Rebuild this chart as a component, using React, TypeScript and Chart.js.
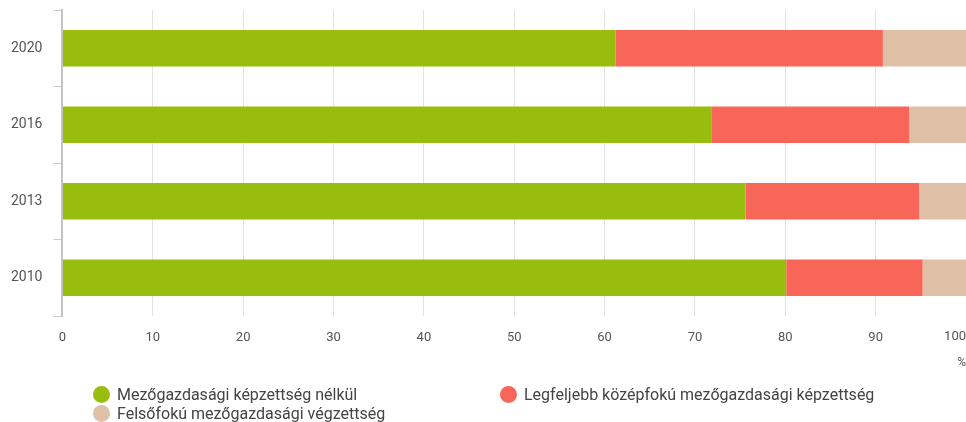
import React, { useEffect, useRef } from 'react';
import { Chart, registerables } from 'chart.js';

Chart.register(...registerables);

const years = ['2020', '2016', '2013', '2010'];
const noTraining = [61.2, 71.8, 75.6, 80.1];
const secondaryTraining = [29.6, 21.9, 19.2, 15.1];
const higherTraining = [9.2, 6.3, 5.2, 4.8];
const seriesNames = [
  'Mezőgazdasági képzettség nélkül',
  'Legfeljebb középfokú mezőgazdasági képzettség',
  'Felsőfokú mezőgazdasági végzettség',
];
const seriesColors = ['#98bd0f', '#f8665a', '#dfc0a7'];
const unitLabel = '%';
const axisMax = 100;

const FONT = 'Roboto, "Noto Sans", sans-serif';
const TEXT = '#555555';

export default function App() {
  const ref = useRef<HTMLCanvasElement | null>(null);

  useEffect(() => {
    if (!ref.current) return;
    const lastTickPlugin = {
      id: 'lastTick',
      afterDraw(chart: any) {
        const s = chart.scales.x;
        const ctx = chart.ctx;
        ctx.save();
        ctx.font = `13px ${FONT}`;
        ctx.fillStyle = TEXT;
        ctx.textAlign = 'right';
        ctx.textBaseline = 'top';
        ctx.fillText(String(axisMax), s.getPixelForValue(axisMax), s.top + 14);
        ctx.restore();
      },
    };
    const chart = new Chart(ref.current, {
      type: 'bar',
      data: {
        labels: years,
        datasets: [noTraining, secondaryTraining, higherTraining].map((d, i) => ({
          label: seriesNames[i],
          data: d,
          backgroundColor: seriesColors[i],
          borderWidth: 0,
          barPercentage: 0.6,
          categoryPercentage: 0.8,
        })),
      },
      options: {
        indexAxis: 'y',
        responsive: false,
        animation: false,
        devicePixelRatio: 1,
        layout: { padding: { top: 10, left: 0, right: 0, bottom: 52 } },
        plugins: {
          legend: { display: false },
          tooltip: { enabled: false },
        },
        scales: {
          x: {
            stacked: true,
            min: 0,
            max: axisMax,
            afterFit: (s: any) => {
              s.paddingRight = 0;
              s.paddingLeft = 0;
            },
            ticks: {
              stepSize: 10,
              padding: 14,
              color: TEXT,
              font: { family: FONT, size: 13 },
              maxRotation: 0,
              callback: (v: any) => (v === axisMax ? '' : String(v)),
            },
            grid: { color: '#e2e2e2', drawTicks: false, lineWidth: 1 },
            border: { display: false },
            title: {
              display: true,
              text: unitLabel,
              align: 'end',
              color: TEXT,
              font: { family: FONT, size: 12 },
              padding: { top: -4, bottom: 0 },
            },
          },
          y: {
            stacked: true,
            afterFit: (s: any) => {
              s.paddingTop = 0;
              s.paddingBottom = 0;
            },
            ticks: { padding: 11, color: TEXT, font: { family: FONT, size: 14 } },
            grid: { drawOnChartArea: false, tickLength: 9, color: '#cccccc', offset: true },
            border: { display: true, color: '#c4c4c4', width: 2 },
          },
        },
      },
      plugins: [lastTickPlugin],
    } as any);
    return () => chart.destroy();
  }, []);

  const legendPos = [
    { left: 93, top: 386 },
    { left: 500, top: 386 },
    { left: 93, top: 405 },
  ];

  return (
    <div style={{ position: 'fixed', left: 0, top: 0, width: 966, height: 422, overflow: 'hidden', background: '#fff' }}>
      <canvas ref={ref} width={966} height={422} style={{ width: 966, height: 422, display: 'block' }} />
      {seriesNames.map((name, i) => (
        <div
          key={name}
          style={{
            position: 'absolute',
            left: legendPos[i].left,
            top: legendPos[i].top,
            height: 17,
            display: 'flex',
            alignItems: 'center',
            fontFamily: FONT,
            fontSize: 16,
            color: '#444',
            whiteSpace: 'nowrap',
          }}
        >
          <span
            style={{
              display: 'inline-block',
              width: 17,
              height: 17,
              borderRadius: '50%',
              background: seriesColors[i],
              marginRight: 7,
            }}
          />
          {name}
        </div>
      ))}
    </div>
  );
}
